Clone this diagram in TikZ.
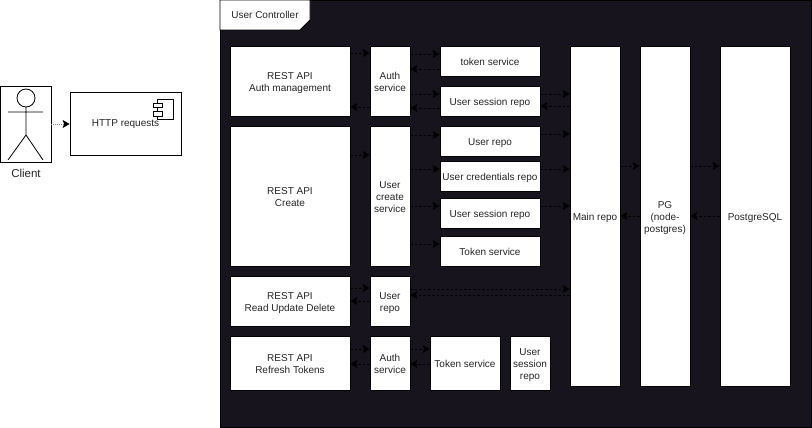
\documentclass[tikz,border=0pt]{standalone}
\usepackage{fontspec}
\setmainfont{Liberation Sans}
\usepackage{xcolor}
\usepackage{tikz}
\usetikzlibrary{arrows.meta}
\definecolor{panel}{HTML}{18141D}
\tikzset{
  box/.style={draw=black,fill=white,rectangle,inner sep=0pt,align=center,text=black!85,line width=.8pt,font=\fontsize{10}{12.4}\selectfont},
  flow/.style={-{Stealth[length=7pt,width=8pt,inset=1.5pt,black]},draw=black,dash pattern=on 2.5pt off 2pt,line width=.8pt},
  reqflow/.style={flow,draw=black!45,dash pattern=on 1pt off 1pt},
}
\newcommand{\boxat}[6]{\node [box,minimum width=#4pt-#2pt,minimum height=#5pt-#3pt] (#1) at ({(#2+#4)/2},{(#3+#5)/2}) {\rule{0pt}{11pt}#6\rule[-2pt]{0pt}{0pt}};}
\newcommand{\flowat}[3]{\draw [flow] (#1 |- 0,#3) -- (#2 |- 0,#3);}
\begin{document}
\begin{tikzpicture}[x=1pt,y=-1pt,line width=.8pt]
\useasboundingbox (0,0) rectangle (812,428);
% client side
\boxat{client}{0}{86}{51}{162}{}
\draw (26,98) circle (9);
\draw (26,107) -- (26,135) (8,112) -- (43,112) (8,160) -- (26,135) -- (43,160);
\node [font=\fontsize{11.5}{13}\selectfont,text=black!85] (clientlabel) at (26,173) {Client};
\boxat{http}{70}{92}{181}{155}{}
\draw [fill=white] (157,99) rectangle (173,119);
\draw [fill=white] (153,103) rectangle (162,107);
\draw [fill=white] (153,111) rectangle (162,116);
\node [box,draw=none,fill=none] (httplabel) at (125.5,124) {HTTP requests};
\draw [reqflow] (client.east |- 0,124) -- (http.west |- 0,124);
% controller panel
\node [draw=black,fill=panel,minimum width=591pt,minimum height=427pt,inner sep=0pt] (panel) at (515.5,213.5) {};
\draw [fill=white] (220,0) -- (310,0) -- (310,20) -- (300,30) -- (220,30) -- cycle;
\node [box,draw=none,fill=none] (title) at (265,15) {User Controller};
% first column
\boxat{authapi}{230}{46}{350}{116}{REST API\\Auth management}
\boxat{createapi}{230}{126}{350}{266}{REST API\\Create}
\boxat{crudapi}{230}{276}{350}{326}{REST API\\Read Update Delete}
\boxat{refreshapi}{230}{336}{350}{390}{REST API\\Refresh Tokens}
% services
\boxat{authsvc}{370}{46}{410}{116}{Auth\\service}
\boxat{createsvc}{370}{126}{410}{266}{User\\create\\service}
\boxat{crudrepo}{370}{276}{410}{326}{User\\repo}
\boxat{refreshsvc}{370}{336}{410}{390}{Auth\\service}
% repos
\boxat{tokensvc}{440}{46}{540}{76}{token service}
\boxat{sessionrepo}{440}{86}{540}{116}{User session repo}
\boxat{userrepo}{440}{126}{540}{156}{User repo}
\boxat{credrepo}{440}{161}{540}{191}{User credentials repo}
\boxat{sessionrepob}{440}{198}{540}{228}{User session repo}
\boxat{tokensvcb}{440}{236}{540}{266}{Token service}
\boxat{tokensvcc}{430}{336}{500}{390}{Token service}
\boxat{sessionrepoc}{510}{336}{550}{390}{User\\session\\repo}
% storage
\boxat{mainrepo}{570}{46}{620}{386}{Main repo}
\boxat{pg}{640}{46}{690}{386}{PG\\(node-\\postgres)}
\boxat{postgres}{720}{46}{790}{386}{PostgreSQL}
% connectors
\flowat{authapi.east}{authsvc.west}{53}
\flowat{authsvc.west}{authapi.east}{107}
\flowat{authsvc.east}{tokensvc.west}{54}
\flowat{tokensvc.west}{authsvc.east}{69}
\flowat{authsvc.east}{sessionrepo.west}{94}
\flowat{sessionrepo.west}{authsvc.east}{108}
\flowat{sessionrepo.east}{mainrepo.west}{94}
\flowat{mainrepo.west}{sessionrepo.east}{106}
\flowat{createapi.east}{createsvc.west}{155}
\flowat{createsvc.east}{userrepo.west}{135}
\flowat{userrepo.east}{mainrepo.west}{134}
\flowat{createsvc.east}{credrepo.west}{169}
\flowat{credrepo.east}{mainrepo.west}{169}
\flowat{createsvc.east}{sessionrepob.west}{206}
\flowat{sessionrepob.east}{mainrepo.west}{206}
\flowat{createsvc.east}{tokensvcb.west}{244}
\flowat{crudapi.east}{crudrepo.west}{288}
\flowat{crudrepo.west}{crudapi.east}{301}
\flowat{crudrepo.east}{mainrepo.west}{289}
\flowat{mainrepo.west}{crudrepo.east}{295}
\flowat{refreshapi.east}{refreshsvc.west}{349}
\flowat{refreshsvc.west}{refreshapi.east}{364}
\flowat{refreshsvc.east}{tokensvcc.west}{349}
\flowat{tokensvcc.west}{refreshsvc.east}{364}
\flowat{mainrepo.east}{pg.west}{166}
\flowat{pg.west}{mainrepo.east}{216}
\flowat{pg.east}{postgres.west}{166}
\flowat{postgres.west}{pg.east}{216}
\end{tikzpicture}
\end{document}
